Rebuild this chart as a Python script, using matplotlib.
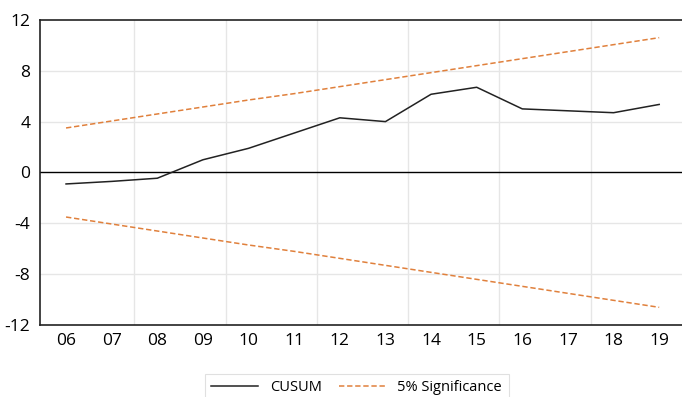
import matplotlib
matplotlib.use("Agg")
import matplotlib.pyplot as plt

# years (quarterly EViews style, labelled by year)
years = ["06", "07", "08", "09", "10", "11", "12", "13", "14", "15", "16", "17", "18", "19"]
cusum = [-0.9, -0.7, -0.45, 1.0, 1.9, 3.1, 4.3, 4.0, 6.15, 6.7, 5.0, 4.85, 4.7, 5.35]
upper = [3.5, 4.05, 4.6, 5.15, 5.7, 6.2, 6.75, 7.3, 7.85, 8.4, 8.95, 9.5, 10.05, 10.6]
lower = [-3.5, -4.05, -4.6, -5.15, -5.7, -6.2, -6.75, -7.3, -7.85, -8.4, -8.95, -9.5, -10.05, -10.6]

plt.rcParams['font.family'] = ['Open Sans', 'DejaVu Sans']
plt.rcParams['axes.unicode_minus'] = False

fig = plt.figure(figsize=(6.82, 3.97), dpi=100)
ax = fig.add_axes([0.0587, 0.181, 0.9413, 0.769])

x = list(range(len(years)))
orange = "#E0803C"

# grid
for g in [1.5, 3.5, 5.5, 7.5, 9.5, 11.5]:
    ax.axvline(g, color="#e6e6e6", lw=1.0, zorder=0)
for g in [-8, -4, 4, 8]:
    ax.axhline(g, color="#e6e6e6", lw=1.0, zorder=0)
ax.axhline(0, color="black", lw=1.0, zorder=1)

ax.plot(x, cusum, color="#222222", lw=1.1, label="CUSUM", zorder=3)
ax.plot(x, upper, color=orange, lw=1.1, ls=(0, (3.5, 1.8)), label="5% Significance", zorder=2)
ax.plot(x, lower, color=orange, lw=1.1, ls=(0, (3.5, 1.8)), zorder=2)

ax.set_xlim(-0.57, 13.5)
ax.set_ylim(-12, 12)
ax.set_yticks([-12, -8, -4, 0, 4, 8, 12])
ax.set_xticks(x)
ax.set_xticklabels(years)
ax.tick_params(length=0, labelsize=12.5, pad=6)
ax.tick_params(axis='y', pad=7)

for s in ["left", "top", "bottom"]:
    ax.spines[s].set_color("#222222")
    ax.spines[s].set_linewidth(1.2)
ax.spines["right"].set_visible(False)

leg = fig.legend(loc="upper center", bbox_to_anchor=(0.523, 0.077), ncol=2,
                 frameon=True, fontsize=10.5, fancybox=False, handlelength=3.2,
                 columnspacing=1.2, borderpad=0.45)
leg.get_frame().set_edgecolor("#d9d9d9")
leg.get_frame().set_linewidth(0.8)

fig.savefig("out.png", dpi=100)
